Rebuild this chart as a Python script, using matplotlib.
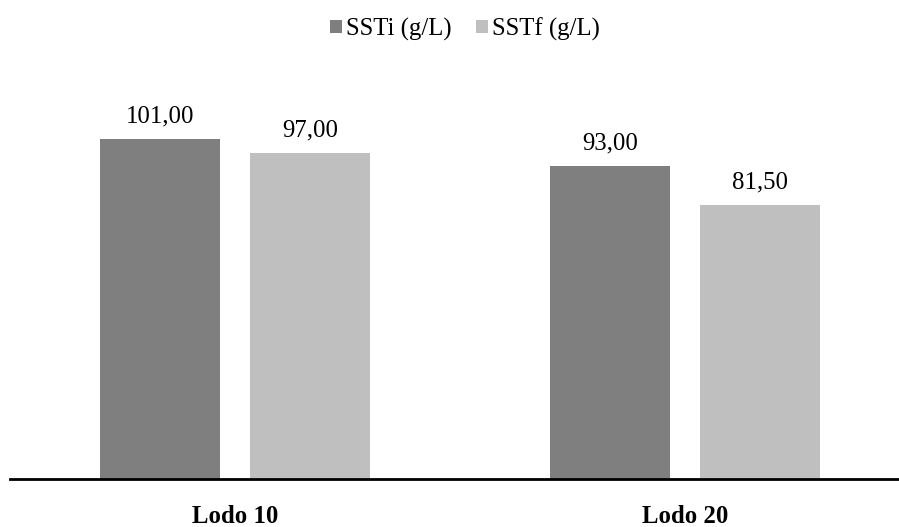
import matplotlib
matplotlib.use('Agg')
import matplotlib.pyplot as plt
import numpy as np

plt.rcParams['font.family'] = ['Liberation Serif', 'DejaVu Serif']

categories = ['Lodo 10', 'Lodo 20']
ssti = [101.00, 93.00]
sstf = [97.00, 81.50]
series_names = ['SSTi (g/L)', 'SSTf (g/L)']
colors = ['#7f7f7f', '#bfbfbf']

W, H = 899, 527
fs = 17.8
fig = plt.figure(figsize=(W / 100, H / 100), dpi=100)

# axes: baseline at y=479 px, left edge at x=10 px
px_per_unit = 3.363
ytop = 120
ax_h = ytop * px_per_unit
ax = fig.add_axes([10 / W, (H - 479) / H, (W - 10) / W, ax_h / H])

x = np.arange(len(categories))
width = 0.2667
off = 0.1667
b1 = ax.bar(x - off, ssti, width, color=colors[0], label=series_names[0])
b2 = ax.bar(x + off, sstf, width, color=colors[1], label=series_names[1])

for bars, vals in ((b1, ssti), (b2, sstf)):
    for rect, v in zip(bars, vals):
        ax.annotate(f'{v:.2f}'.replace('.', ','),
                    (rect.get_x() + rect.get_width() / 2, v),
                    xytext=(0, 8.5), textcoords='offset points',
                    ha='center', va='bottom', fontsize=fs)

ax.set_xlim(-0.5, -0.5 + (W - 10) / 450)
ax.set_ylim(0, ytop)
ax.set_yticks([])
ax.set_xticks(x)
ax.set_xticklabels(categories, fontsize=fs, fontweight='bold')
ax.tick_params(axis='x', length=0, pad=18.5)
for s in ['top', 'right', 'left']:
    ax.spines[s].set_visible(False)
ax.spines['bottom'].set_linewidth(2)

fig.legend(loc='center', bbox_to_anchor=(465 / W, 1 - 29 / H), ncol=2,
           frameon=False, fontsize=fs, handlelength=0.49, handleheight=0.49,
           handletextpad=0.16, columnspacing=1.0)

fig.savefig('out.png', dpi=100)
